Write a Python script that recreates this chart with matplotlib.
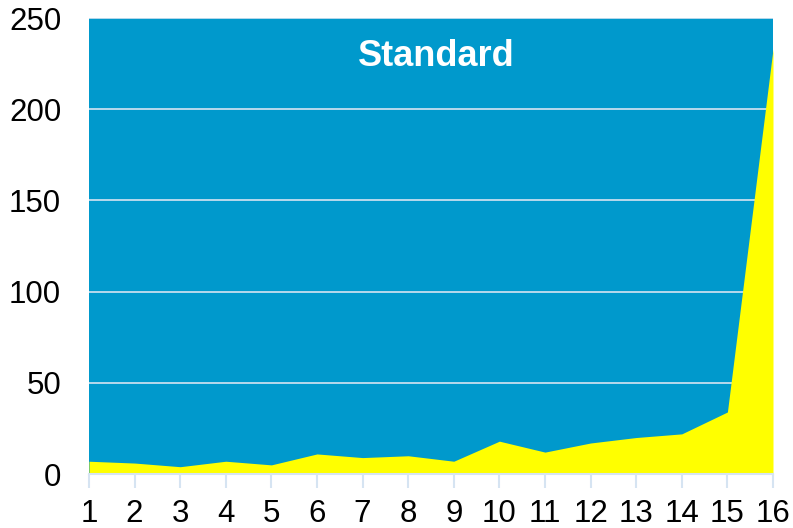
import numpy as np
import matplotlib
matplotlib.use('Agg')
import matplotlib.pyplot as plt

plt.rcParams['font.family'] = ['Liberation Sans', 'DejaVu Sans']

# data
days = np.arange(1, 17)
values = [7, 6, 4, 7, 5, 11, 9, 10, 7, 18, 12, 17, 20, 22, 34, 233]
yticks = [0, 50, 100, 150, 200, 250]
title = 'Standard'

blue = '#0099CC'
yellow = '#FFFF00'
light = '#D6E4F2'

fig = plt.figure(figsize=(7.93, 5.28), dpi=100)
ax = fig.add_axes([89 / 793, 54 / 528, 684 / 793, 456 / 528])
ax.set_facecolor(blue)

# grid behind the yellow area
ax.set_axisbelow(True)
ax.yaxis.grid(True, color=light, linewidth=1.2)
ax.fill_between(days, values, 0, color=yellow, linewidth=0, zorder=2)

ax.set_xlim(1, 16)
ax.set_ylim(0, 250)
ax.set_xticks(days)
ax.set_yticks(yticks)

for s in ['top', 'right', 'left']:
    ax.spines[s].set_visible(False)
ax.spines['bottom'].set_color(light)
ax.spines['bottom'].set_linewidth(1.5)
ax.spines['bottom'].set_zorder(3)

ax.tick_params(axis='x', length=10, width=1.5, color=light, pad=8, labelsize=22.5)
ax.tick_params(axis='y', length=0, pad=20, labelsize=22.5)

ax.text(0.508, 0.915, title, transform=ax.transAxes, ha='center', va='center',
        color='white', fontsize=26, fontweight='bold', zorder=4)

fig.savefig('out.png', dpi=100)
